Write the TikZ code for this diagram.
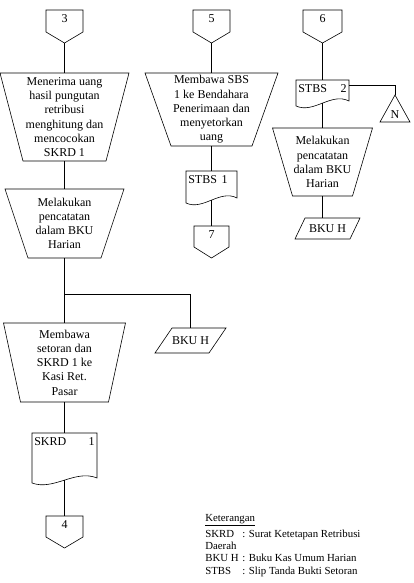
\documentclass[tikz,border=0pt]{standalone}
\usepackage{fontspec}
\setmainfont{Liberation Serif}
\usetikzlibrary{calc}
\tikzset{
  shapebox/.style={draw=none, inner sep=0pt, outer sep=0pt},
  boxtext/.style={align=center, font=\fontsize{12}{14.2}\selectfont},
  numtext/.style={inner sep=0pt, font=\fontsize{12}{14}\selectfont},
  doctext/.style={inner xsep=2pt, inner ysep=4pt, font=\fontsize{12}{14}\selectfont},
  legendtext/.style={inner sep=0pt, font=\fontsize{10.8}{12.2}\selectfont},
  every path/.style={line width=0.6pt}
}
% off-page connector: name, centre x, top y, width, height, text
\newcommand\offpage[6]{%
  \node[shapebox, minimum width=#4pt, minimum height=#5pt, anchor=north] (#1) at (#2,#3) {};
  \draw (#1.north west) -- (#1.north east) -- ($(#1.south east)+(0,-11)$) -- (#1.south)
        -- ($(#1.south west)+(0,-11)$) -- cycle;
  \node[numtext, anchor=north] (#1t) at ($(#1.north)+(0,4.5)$) {#6};}
% manual operation (trapezoid): name, centre x, top y, top width, height, inset, text
\newcommand\trap[7]{%
  \node[shapebox, boxtext, minimum width=#4pt, minimum height=#5pt, anchor=north] (#1) at (#2,#3) {#7};
  \draw (#1.north west) -- (#1.north east) -- ($(#1.south east)+(-#6,0)$)
        -- ($(#1.south west)+(#6,0)$) -- cycle;}
% document: name, centre x, top y, width, height, left text, right text
\newcommand\docu[7]{%
  \node[shapebox, minimum width=#4pt, minimum height=#5pt, anchor=north] (#1) at (#2,#3) {};
  \draw (#1.north west) -- (#1.north east) -- ($(#1.south east)+(0,-5)$)
        .. controls ($(#1.south west)!2/3!(#1.south east)+(0,-14)$)
        and ($(#1.south west)!1/3!(#1.south east)+(0,8)$) .. (#1.south west) -- cycle;
  \coordinate (#1w) at ($(#1.south)+(0,-2.875)$);
  \node[doctext, anchor=north west] (#1l) at (#1.north west) {#6};
  \node[doctext, anchor=north east] (#1r) at (#1.north east) {#7};}
% parallelogram: name, centre x, top y, width, height, slant, text
\newcommand\para[7]{%
  \node[shapebox, minimum width=#4pt, minimum height=#5pt, anchor=north,
        font=\fontsize{12}{14}\selectfont] (#1) at (#2,#3) {#7};
  \draw ($(#1.north west)+(#6,0)$) -- (#1.north east) -- ($(#1.south east)+(-#6,0)$)
        -- (#1.south west) -- cycle;}
\begin{document}
\begin{tikzpicture}[x=1pt,y=-1pt]
\useasboundingbox (0,0) rectangle (413,583);

% ---------- column 1 ----------
\offpage{c3}{64.5}{10}{37}{33}{3}
\trap{t1}{64.5}{73}{129}{88}{23}{Menerima uang\\hasil pungutan\\retribusi\\menghitung dan\\mencocokan\\SKRD 1}
\trap{t2}{64.5}{189}{119}{69}{23}{Melakukan\\pencatatan\\dalam BKU\\Harian}
\trap{t3}{64.5}{323}{122}{79}{17}{Membawa\\setoran dan\\SKRD 1 ke\\Kasi Ret.\\Pasar}
\para{p1}{190.5}{328}{71}{25}{17}{BKU H}
\docu{d1}{64.5}{433}{65}{50}{SKRD}{1}
\offpage{c4}{64.5}{516}{37}{32}{4}
\coordinate (j) at (64.5,294);

\draw (c3.south) -- (t1.north);
\draw (t1.south) -- (t2.north);
\draw (t2.south) -- (t3.north);
\draw (j) -| (p1.north);
\draw (t3.south) -- (d1.north);
\draw (d1w) -- (c4.north);

% ---------- column 2 ----------
\offpage{c5}{211.5}{10}{37}{33}{5}
\trap{t4}{211.5}{73}{133}{73}{26}{Membawa SBS\\1 ke Bendahara\\Penerimaan dan\\menyetorkan\\uang}
\docu{d2}{211.5}{171}{51}{32}{STBS}{1\hspace*{7pt}}
\offpage{c7}{211.5}{226}{35}{32}{7}

\draw (c5.south) -- (t4.north);
\draw (t4.south) -- (d2.north);
\draw (d2w) -- (c7.north);

% ---------- column 3 ----------
\offpage{c6}{322.5}{10}{39}{33}{6}
\docu{d3}{322.5}{80}{53}{26}{STBS}{2}
\node[shapebox, minimum width=30pt, minimum height=27pt, anchor=north] (tri) at (395,95) {};
\draw (tri.north) -- (tri.south east) -- (tri.south west) -- cycle;
\node[numtext, anchor=south] (trit) at ($(tri.south)+(0,-3)$) {N};
\trap{t5}{322.5}{128}{100}{68}{20}{Melakukan\\pencatatan\\dalam BKU\\Harian}
\para{p2}{327.5}{218}{65}{21}{10}{BKU H}

\draw (c6.south) -- (d3.north);
\draw ($(d3.north east)+(0,5)$) -| (tri.north);
\draw (d3w) -- (t5.north);
\draw (t5.south) -- (t5.south |- p2.north);

% ---------- legend ----------
\node[legendtext, anchor=north west] (legend) at (205,513) {%
  \begin{tabular}{@{}p{37pt}@{}l@{}}
  \multicolumn{2}{@{}l@{}}{\underline{Keterangan}}\\[3pt]
  SKRD & : Surat Ketetapan Retribusi\\
  \multicolumn{2}{@{}l@{}}{Daerah}\\[0.5pt]
  BKU H & : Buku Kas Umum Harian\\
  STBS & : Slip Tanda Bukti Setoran
  \end{tabular}};
\end{tikzpicture}
\end{document}
